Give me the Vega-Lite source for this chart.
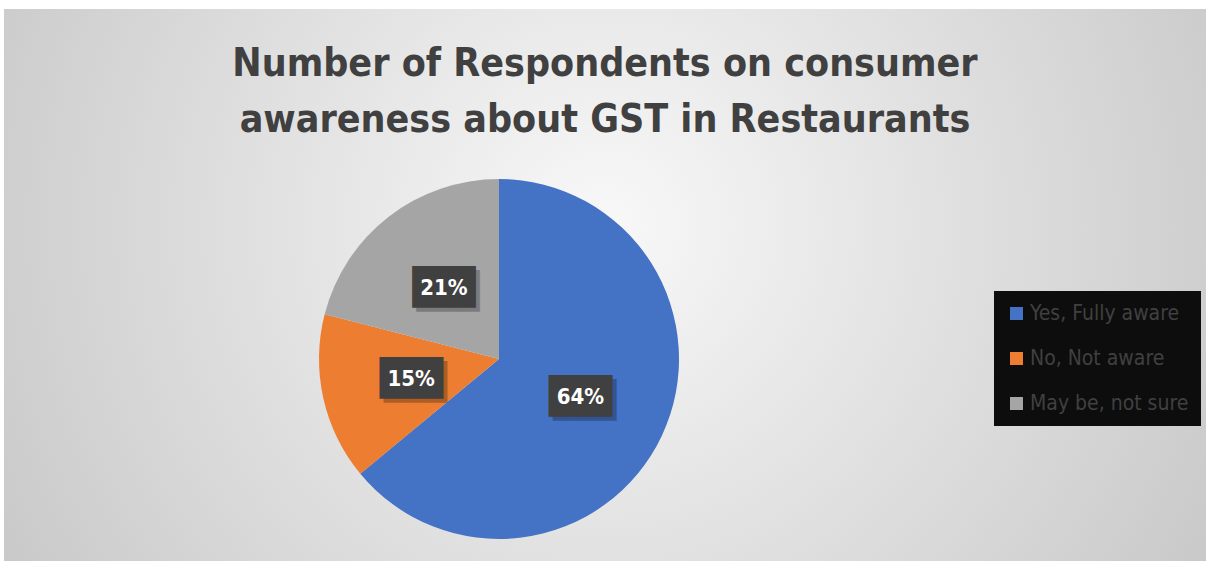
{
  "$schema": "https://vega.github.io/schema/vega-lite/v6.json",
  "width": 1202,
  "height": 552,
  "autosize": "none",
  "padding": {"left": 4, "top": 9, "right": 0, "bottom": 0},
  "background": "white",
  "config": {"view": {"stroke": null}},
  "title": {
    "text": ["Number of Respondents on consumer", "awareness about GST in Restaurants"],
    "font": "DejaVu Sans Condensed, sans-serif",
    "fontWeight": "bold",
    "fontSize": 39,
    "lineHeight": 56,
    "color": "#404040",
    "anchor": "middle",
    "orient": "top",
    "offset": -131
  },
  "data": {
    "values": [
      {"response": "Yes, Fully aware", "value": 64, "order": 1, "label": "64%"},
      {"response": "No, Not aware", "value": 15, "order": 2, "label": "15%"},
      {"response": "May be, not sure", "value": 21, "order": 3, "label": "21%"}
    ]
  },
  "layer": [
    {
      "data": {"values": [{"bg": 1}]},
      "mark": {
        "type": "rect",
        "color": {
          "gradient": "radial",
          "x1": 0.5, "y1": 0.45, "r1": 0,
          "x2": 0.5, "y2": 0.45, "r2": 0.72,
          "stops": [
            {"offset": 0, "color": "#f8f8f8"},
            {"offset": 1, "color": "#bdbdbd"}
          ]
        }
      },
      "encoding": {}
    },
    {
      "mark": {"type": "arc", "radius": 180, "x": 495, "y": 350, "stroke": null},
      "encoding": {
        "theta": {"field": "value", "type": "quantitative", "stack": true},
        "order": {"field": "order", "type": "quantitative"},
        "color": {
          "field": "response",
          "type": "nominal",
          "scale": {
            "domain": ["Yes, Fully aware", "No, Not aware", "May be, not sure"],
            "range": ["#4472C4", "#ED7D31", "#A5A5A5"]
          },
          "legend": {
            "orient": "none",
            "legendX": 990,
            "legendY": 282,
            "title": null,
            "fillColor": "#0d0d0d",
            "padding": 12,
            "symbolType": "square",
            "symbolSize": 169,
            "symbolStrokeWidth": 0,
            "labelFont": "DejaVu Sans Condensed, sans-serif",
            "labelFontSize": 21,
            "labelColor": "#404040",
            "labelLimit": 300,
            "labelOffset": 3,
            "rowPadding": 23
          }
        }
      }
    },
    {
      "mark": {"type": "text", "radius": 90, "x": 499, "y": 354, "font": "DejaVu Sans Mono", "fontSize": 35, "color": "#000000", "opacity": 0.25, "baseline": "middle", "align": "center"},
      "encoding": {
        "theta": {"field": "value", "type": "quantitative", "stack": true},
        "order": {"field": "order", "type": "quantitative"},
        "text": {"value": "███"}
      }
    },
    {
      "mark": {"type": "text", "radius": 90, "x": 495, "y": 350, "font": "DejaVu Sans Mono", "fontSize": 35, "color": "#404040", "baseline": "middle", "align": "center"},
      "encoding": {
        "theta": {"field": "value", "type": "quantitative", "stack": true},
        "order": {"field": "order", "type": "quantitative"},
        "text": {"value": "███"}
      }
    },
    {
      "mark": {"type": "text", "radius": 90, "x": 495, "y": 350, "font": "DejaVu Sans Condensed, sans-serif", "fontWeight": "bold", "fontSize": 22, "color": "#ffffff", "baseline": "middle", "align": "center"},
      "encoding": {
        "theta": {"field": "value", "type": "quantitative", "stack": true},
        "order": {"field": "order", "type": "quantitative"},
        "text": {"field": "label", "type": "nominal"}
      }
    }
  ]
}
